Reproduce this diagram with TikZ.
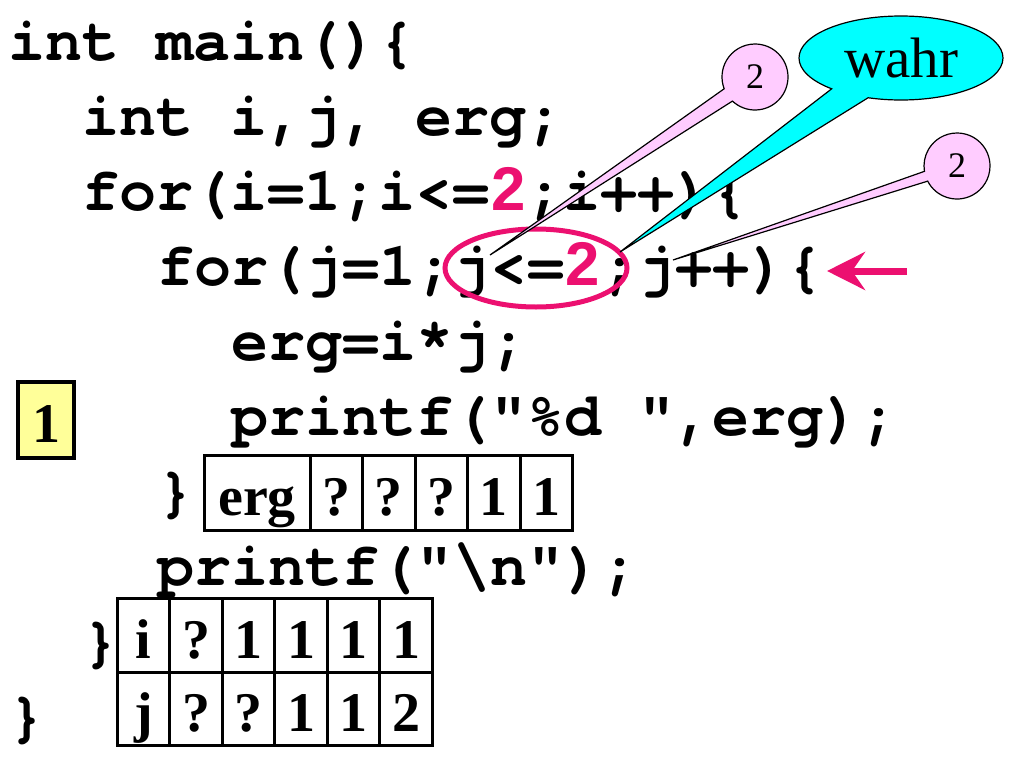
\documentclass[tikz,border=0pt]{standalone}
\usepackage{fontspec}
\setmainfont{Liberation Serif}
\setsansfont{Liberation Sans}
\newfontfamily\codefont{texgyrecursor}[Extension=.otf,
  UprightFont=*-regular, BoldFont=*-bold]
\usetikzlibrary{shapes.geometric,shapes.callouts,arrows.meta}

\definecolor{hilite}{RGB}{236,16,112}
\definecolor{bubblepink}{RGB}{255,204,255}
\definecolor{bubblecyan}{RGB}{0,255,255}
\definecolor{boxyellow}{RGB}{255,255,153}
\newcommand\hiltwo{\makebox[0.6em]{\color{hilite}\sffamily\bfseries 2}}

\tikzset{
  codeline/.style = {anchor=base west, inner sep=0pt,
    font=\fontsize{61.7}{75}\codefont\bfseries},
  cell/.style = {draw, line width=3pt, minimum width=52.5pt, minimum height=73.5pt,
    inner sep=0pt, text height=45pt, text depth=0pt,
    font=\fontsize{56}{60}\selectfont\bfseries},% Speicherzelle
  bubble/.style = {ellipse callout, draw, line width=1.2pt, fill=bubblepink,
    minimum size=66pt, inner sep=0pt, font=\fontsize{36}{38}\selectfont},% Wert
  pointer/.style = {hilite, line width=7pt,
    -{Stealth[length=38pt, width=38pt, inset=13pt]}}
}

\begin{document}
\begin{tikzpicture}[x=1pt, y=-1pt]
  \useasboundingbox (0,0) rectangle (1024,768);
  % Programmtext
  \node [codeline] (l1) at (8,60) {int main()\{};
  \node [codeline] (l2) at (82.4,135) {int i,j, erg;};
  \node [codeline] (l3) at (82.4,210) {for(i=1;i<=\hiltwo;i++)\{};
  \node [codeline] (l4) at (156.8,285) {for(j=1;j<=\hiltwo;j++)\{};
  \node [codeline] (l5) at (231.2,360) {erg=i*j;};
  \node [codeline] (l6) at (231.2,435) {printf("\%d ",erg);};
  \node [codeline] (l7) at (156.8,510) {\}};
  \node [codeline] (l8) at (156.8,585) {printf("\textbackslash n");};
  \node [codeline] (l9) at (82.4,660) {\}};
  \node [codeline] (l10) at (8,735) {\}};

  % Ausgabe
  \node [cell, fill=boxyellow, line width=4pt, minimum width=56pt,
    minimum height=76pt] (out) at (46,420) {1};

  % Variablen
  \node [cell, minimum width=106pt, minimum height=75pt] (erg0) at (257,492.5) {erg};
  \foreach \v [count=\k from 0] in {?,?,?,1,1}
    \node [cell, minimum height=75pt] (erg\k) at (336.25+52.5*\k,492.5) {\v};
  \foreach \v [count=\k from 0] in {i,?,1,1,1,1}
    \node [cell] (i\k) at (143.5+52.5*\k,635.5) {\v};
  \foreach \v [count=\k from 0] in {j,?,?,1,1,2}
    \node [cell] (j\k) at (143.5+52.5*\k,709) {\v};

  % Bedingung
  \node [ellipse, draw=hilite, line width=5pt, minimum width=182pt,
    minimum height=78pt] (cond) at (536,268) {};
  \coordinate (tipA) at (490,255);
  \coordinate (tipB) at (620,252);
  \coordinate (tipC) at (673,260);
  \node [bubble, callout absolute pointer={(tipA)}, callout pointer arc=26]
    (twoA) at (755,77) {2};
  \node [bubble, fill=bubblecyan, minimum width=204pt, minimum height=84pt,
    callout absolute pointer={(tipB)}, callout pointer arc=24,
    font=\fontsize{57}{60}\selectfont] (wahr) at (901,58) {wahr};
  \node [bubble, callout absolute pointer={(tipC)}, callout pointer arc=18]
    (twoB) at (957,166) {2};

  \coordinate (arrT) at (907,271);
  \coordinate (arrH) at (827,271);
  \draw [pointer] (arrT) -- (arrH);
\end{tikzpicture}
\end{document}
